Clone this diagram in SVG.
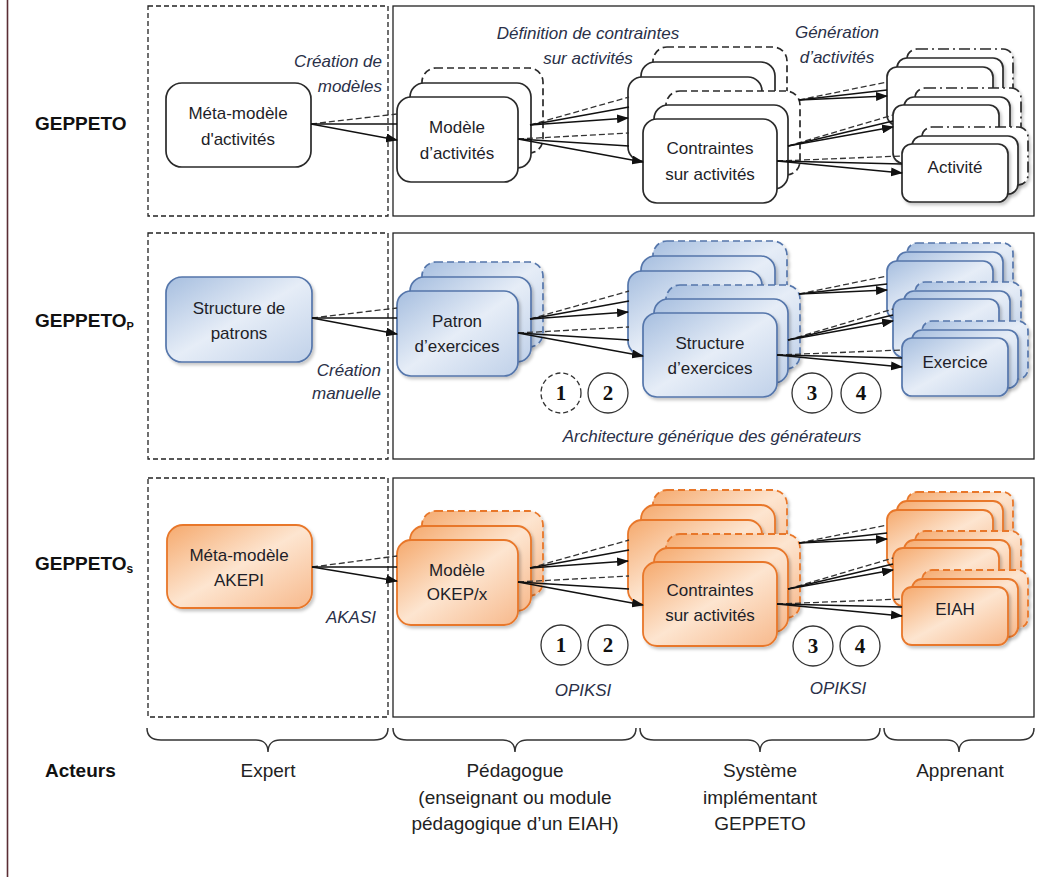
<svg xmlns="http://www.w3.org/2000/svg" width="1044" height="877" viewBox="0 0 1044 877">
<defs>
<style>
text{font-family:"Liberation Sans",Arial,sans-serif;fill:#1e1e28}
.nt{font-size:17px;text-anchor:middle}
.lb{font-size:17px;font-style:italic;fill:#2a3048}
.rl{font-size:19px;font-weight:bold;fill:#111}
.bt{font-size:19px;text-anchor:middle;fill:#222}
.num{font-family:"Liberation Serif","DejaVu Serif",serif;font-size:21px;font-weight:bold;text-anchor:middle;fill:#111}
.w{fill:#fff;stroke:#2a2a2a;stroke-width:1.7}
.wd{fill:#fff;stroke:#2a2a2a;stroke-width:1.7;stroke-dasharray:7 4}
.wdd{fill:#fff;stroke:#2a2a2a;stroke-width:1.7;stroke-dasharray:11 4 2 4}
.b{fill:url(#gb);stroke:#5576ab;stroke-width:1.7}
.bd{fill:url(#gb);stroke:#5576ab;stroke-width:1.7;stroke-dasharray:7 4}
.o{fill:url(#go);stroke:#e8772a;stroke-width:1.8}
.od{fill:url(#go);stroke:#e8772a;stroke-width:1.8;stroke-dasharray:7 4}
.sh{filter:url(#sh)}
.s{fill:none;stroke:#111;stroke-width:1.3}
.a{fill:none;stroke:#111;stroke-width:1.3;marker-end:url(#ah)}
.d{fill:none;stroke:#333;stroke-width:1.3;stroke-dasharray:6 3}
.fr{fill:none;stroke:#222;stroke-width:1.3}
.frd{fill:none;stroke:#222;stroke-width:1.3;stroke-dasharray:5 3}
.c{fill:#fff;stroke:#333;stroke-width:1.3}
.cd{fill:#fff;stroke:#333;stroke-width:1.3;stroke-dasharray:5 3}
.br{fill:none;stroke:#333;stroke-width:1.5}
</style>
<linearGradient id="gb" x1="0" y1="0" x2="1" y2="1">
<stop offset="0" stop-color="#a6bedf"/><stop offset="0.5" stop-color="#e6edf7"/><stop offset="1" stop-color="#c0d1e9"/>
</linearGradient>
<linearGradient id="go" x1="0" y1="0" x2="1" y2="1">
<stop offset="0" stop-color="#f5a96d"/><stop offset="0.5" stop-color="#fde5d0"/><stop offset="1" stop-color="#f7b98c"/>
</linearGradient>
<filter id="sh" x="-10%" y="-10%" width="130%" height="130%">
<feDropShadow dx="2" dy="2.5" stdDeviation="1.5" flood-color="#000" flood-opacity="0.22"/>
</filter>
<marker id="ah" markerWidth="12" markerHeight="9" refX="11" refY="4.5" orient="auto" markerUnits="userSpaceOnUse">
<path d="M0,0 L12,4.5 L0,9 z" fill="#111"/>
</marker>
</defs>

<rect width="1044" height="877" fill="#fff"/>
<line x1="7.5" y1="0" x2="7.5" y2="877" stroke="#5a2d34" stroke-width="1.6"/>

<g id="frames">
<rect class="frd" x="148" y="6" width="240" height="210"/>
<rect class="fr" x="393" y="6" width="641" height="210"/>
<rect class="frd" x="148" y="233" width="240" height="226"/>
<rect class="fr" x="393" y="233" width="641" height="226"/>
<rect class="frd" x="148" y="478" width="240" height="239"/>
<rect class="fr" x="393" y="478" width="641" height="239"/>
</g>

<g id="row-labels">
<text class="rl" x="35" y="130">GEPPETO</text>
<text class="rl" x="35" y="327">GEPPETO<tspan font-size="11" dy="3">P</tspan></text>
<text class="rl" x="35" y="570">GEPPETO<tspan font-size="12" dy="3">s</tspan></text>
</g>

<!-- ROW 1 -->
<g id="row1">
<g id="meta-modele-activites">
<rect class="w" x="166" y="83" width="145" height="84" rx="16"/>
<text class="nt" x="238" y="119">Méta-modèle</text>
<text class="nt" x="238" y="145">d'activités</text>
</g>
<g id="modele-activites">
<rect class="wd" x="422" y="68" width="121" height="85" rx="14"/>
<rect class="w" x="410" y="83" width="121" height="85" rx="14"/>
<rect class="w" x="397" y="97" width="121" height="85" rx="14"/>
<text class="nt" x="457" y="133">Modèle</text>
<text class="nt" x="457" y="159">d’activités</text>
</g>
<g id="contraintes-haut">
<rect class="wd" x="653" y="47" width="134" height="84" rx="14"/>
<rect class="w" x="641" y="62" width="134" height="84" rx="14"/>
<rect class="w" x="628" y="77" width="134" height="84" rx="14"/>
</g>
<g id="contraintes-activites">
<rect class="wd" x="666" y="91" width="134" height="84" rx="14"/>
<rect class="w" x="654" y="105" width="134" height="84" rx="14"/>
<rect class="w" x="643" y="119" width="134" height="84" rx="14"/>
<text class="nt" x="710" y="154">Contraintes</text>
<text class="nt" x="710" y="180">sur activités</text>
</g>
<g id="activites-a">
<rect class="wdd sh" x="907" y="49" width="106" height="58" rx="10"/>
<rect class="w sh" x="897" y="58" width="106" height="58" rx="10"/>
<rect class="w sh" x="887" y="67" width="106" height="58" rx="10"/>
</g>
<g id="activites-b">
<rect class="wdd sh" x="915" y="88" width="106" height="58" rx="10"/>
<rect class="w sh" x="904" y="97" width="106" height="58" rx="10"/>
<rect class="w sh" x="893" y="105" width="106" height="58" rx="10"/>
</g>
<g id="activite">
<rect class="wdd sh" x="922" y="127" width="106" height="58" rx="10"/>
<rect class="w sh" x="912" y="136" width="106" height="58" rx="10"/>
<rect class="w sh" x="902" y="144" width="106" height="58" rx="10"/>
<text class="nt" x="955" y="173">Activité</text>
</g>
</g>

<!-- ROW 2 -->
<g id="row2" transform="translate(0,194)">
<g id="structure-patrons">
<rect class="b sh" x="166" y="83" width="146" height="85" rx="16"/>
<text class="nt" x="239" y="120">Structure de</text>
<text class="nt" x="239" y="145">patrons</text>
</g>
<g id="patron-exercices">
<rect class="bd sh" x="422" y="68" width="121" height="85" rx="14"/>
<rect class="b sh" x="410" y="83" width="121" height="85" rx="14"/>
<rect class="b sh" x="397" y="97" width="121" height="85" rx="14"/>
<text class="nt" x="457" y="133">Patron</text>
<text class="nt" x="457" y="158">d’exercices</text>
</g>
<g id="structures-haut">
<rect class="bd sh" x="653" y="47" width="134" height="84" rx="14"/>
<rect class="b sh" x="641" y="62" width="134" height="84" rx="14"/>
<rect class="b sh" x="628" y="77" width="134" height="84" rx="14"/>
</g>
<g id="structure-exercices">
<rect class="bd sh" x="666" y="91" width="134" height="84" rx="14"/>
<rect class="b sh" x="654" y="105" width="134" height="84" rx="14"/>
<rect class="b sh" x="643" y="119" width="134" height="84" rx="14"/>
<text class="nt" x="710" y="155">Structure</text>
<text class="nt" x="710" y="180">d’exercices</text>
</g>
<g id="exercices-a">
<rect class="bd sh" x="907" y="49" width="106" height="58" rx="10"/>
<rect class="b sh" x="897" y="58" width="106" height="58" rx="10"/>
<rect class="b sh" x="887" y="67" width="106" height="58" rx="10"/>
</g>
<g id="exercices-b">
<rect class="bd sh" x="915" y="88" width="106" height="58" rx="10"/>
<rect class="b sh" x="904" y="97" width="106" height="58" rx="10"/>
<rect class="b sh" x="893" y="105" width="106" height="58" rx="10"/>
</g>
<g id="exercice">
<rect class="bd sh" x="922" y="127" width="106" height="58" rx="10"/>
<rect class="b sh" x="912" y="136" width="106" height="58" rx="10"/>
<rect class="b sh" x="902" y="144" width="106" height="58" rx="10"/>
<text class="nt" x="955" y="174">Exercice</text>
</g>
</g>

<!-- ROW 3 -->
<g id="row3" transform="translate(0,443)">
<g id="meta-modele-akepi">
<rect class="o sh" x="167" y="82" width="145" height="83" rx="16"/>
<text class="nt" x="239" y="118">Méta-modèle</text>
<text class="nt" x="239" y="143">AKEPI</text>
</g>
<g id="modele-okep">
<rect class="od sh" x="422" y="68" width="121" height="85" rx="14"/>
<rect class="o sh" x="410" y="83" width="121" height="85" rx="14"/>
<rect class="o sh" x="397" y="97" width="121" height="85" rx="14"/>
<text class="nt" x="457" y="133">Modèle</text>
<text class="nt" x="457" y="157">OKEP/x</text>
</g>
<g id="contraintes-haut-3">
<rect class="od sh" x="653" y="47" width="134" height="84" rx="14"/>
<rect class="o sh" x="641" y="62" width="134" height="84" rx="14"/>
<rect class="o sh" x="628" y="77" width="134" height="84" rx="14"/>
</g>
<g id="contraintes-activites-3">
<rect class="od sh" x="666" y="91" width="134" height="84" rx="14"/>
<rect class="o sh" x="654" y="105" width="134" height="84" rx="14"/>
<rect class="o sh" x="643" y="119" width="134" height="84" rx="14"/>
<text class="nt" x="710" y="153">Contraintes</text>
<text class="nt" x="710" y="178">sur activités</text>
</g>
<g id="eiah-a">
<rect class="od sh" x="907" y="49" width="106" height="58" rx="10"/>
<rect class="o sh" x="897" y="58" width="106" height="58" rx="10"/>
<rect class="o sh" x="887" y="67" width="106" height="58" rx="10"/>
</g>
<g id="eiah-b">
<rect class="od sh" x="915" y="88" width="106" height="58" rx="10"/>
<rect class="o sh" x="904" y="97" width="106" height="58" rx="10"/>
<rect class="o sh" x="893" y="105" width="106" height="58" rx="10"/>
</g>
<g id="eiah">
<rect class="od sh" x="922" y="127" width="106" height="58" rx="10"/>
<rect class="o sh" x="912" y="136" width="106" height="58" rx="10"/>
<rect class="o sh" x="902" y="144" width="106" height="58" rx="10"/>
<text class="nt" x="955" y="172">EIAH</text>
</g>
</g>

<g id="connectors">
<g id="conn-row1">
<path class="d" d="M311,124 L397,114"/>
<path class="s" d="M311,124 L397,124"/>
<path class="a" d="M311,124 L397,140"/>
<path class="d" d="M530,125 L629,97"/>
<path class="s" d="M530,125 L629,107"/>
<path class="a" d="M530,125 L628,118"/>
<path class="d" d="M518,139 L629,133"/>
<path class="s" d="M518,139 L629,146"/>
<path class="a" d="M518,139 L643,162"/>
<path class="d" d="M799,100 L887,82"/>
<path class="s" d="M799,100 L887,90"/>
<path class="a" d="M799,100 L887,96"/>
<path class="d" d="M788,146 L893,115"/>
<path class="s" d="M788,146 L893,121"/>
<path class="a" d="M788,146 L893,127"/>
<path class="d" d="M777,161 L902,156"/>
<path class="s" d="M777,161 L902,164"/>
<path class="a" d="M777,161 L902,173"/>
</g>
<g id="conn-row2" transform="translate(0,194)">
<path class="d" d="M312,124 L397,114"/>
<path class="s" d="M312,124 L397,124"/>
<path class="a" d="M312,124 L397,140"/>
<path class="d" d="M530,125 L629,97"/>
<path class="s" d="M530,125 L629,107"/>
<path class="a" d="M530,125 L628,118"/>
<path class="d" d="M518,139 L629,133"/>
<path class="s" d="M518,139 L629,146"/>
<path class="a" d="M518,139 L643,162"/>
<path class="d" d="M799,100 L887,82"/>
<path class="s" d="M799,100 L887,90"/>
<path class="a" d="M799,100 L887,96"/>
<path class="d" d="M788,146 L893,115"/>
<path class="s" d="M788,146 L893,121"/>
<path class="a" d="M788,146 L893,127"/>
<path class="d" d="M777,161 L902,156"/>
<path class="s" d="M777,161 L902,164"/>
<path class="a" d="M777,161 L902,173"/>
</g>
<g id="conn-row3" transform="translate(0,443)">
<path class="d" d="M312,124 L397,113"/>
<path class="s" d="M312,124 L397,124"/>
<path class="a" d="M312,124 L397,138"/>
<path class="d" d="M530,125 L629,97"/>
<path class="s" d="M530,125 L629,107"/>
<path class="a" d="M530,125 L628,118"/>
<path class="d" d="M518,139 L629,133"/>
<path class="s" d="M518,139 L629,146"/>
<path class="a" d="M518,139 L643,162"/>
<path class="d" d="M799,100 L887,82"/>
<path class="s" d="M799,100 L887,90"/>
<path class="a" d="M799,100 L887,96"/>
<path class="d" d="M788,146 L893,115"/>
<path class="s" d="M788,146 L893,121"/>
<path class="a" d="M788,146 L893,127"/>
<path class="d" d="M777,161 L902,156"/>
<path class="s" d="M777,161 L902,164"/>
<path class="a" d="M777,161 L902,173"/>
</g>
</g>

<g id="labels">
<text class="lb" x="382" y="67" text-anchor="end">Création de</text>
<text class="lb" x="382" y="92" text-anchor="end">modèles</text>
<text class="lb" x="588" y="39" text-anchor="middle">Définition de contraintes</text>
<text class="lb" x="588" y="64" text-anchor="middle">sur activités</text>
<text class="lb" x="837" y="38" text-anchor="middle">Génération</text>
<text class="lb" x="837" y="63" text-anchor="middle">d’activités</text>
<text class="lb" x="381" y="376" text-anchor="end">Création</text>
<text class="lb" x="381" y="399" text-anchor="end">manuelle</text>
<text class="lb" x="712" y="442" text-anchor="middle">Architecture générique des générateurs</text>
<text class="lb" x="376" y="623" text-anchor="end">AKASI</text>
<text class="lb" x="583" y="696" text-anchor="middle">OPIKSI</text>
<text class="lb" x="838" y="694" text-anchor="middle">OPIKSI</text>
</g>

<g id="steps-row2">
<g id="c2-1"><circle class="cd" cx="561" cy="393" r="20"/><text class="num" x="561" y="400">1</text></g>
<g id="c2-2"><circle class="c" cx="608" cy="393" r="20"/><text class="num" x="608" y="400">2</text></g>
<g id="c2-3"><circle class="c" cx="812" cy="393" r="20"/><text class="num" x="812" y="400">3</text></g>
<g id="c2-4"><circle class="c" cx="861" cy="393" r="20"/><text class="num" x="861" y="400">4</text></g>
</g>
<g id="steps-row3">
<g id="c3-1"><circle class="c" cx="561" cy="645" r="20"/><text class="num" x="561" y="652">1</text></g>
<g id="c3-2"><circle class="c" cx="608" cy="645" r="20"/><text class="num" x="608" y="652">2</text></g>
<g id="c3-3"><circle class="c" cx="813" cy="646" r="20"/><text class="num" x="813" y="653">3</text></g>
<g id="c3-4"><circle class="c" cx="860" cy="646" r="20"/><text class="num" x="860" y="653">4</text></g>
</g>

<g id="acteurs">
<path class="br" d="M147,728 C147,736 151,740 161,740 L256,740 C263,740 268,744 268,752 C268,744 273,740 280,740 L374,740 C384,740 388,736 388,728"/>
<path class="br" d="M393,728 C393,736 397,740 407,740 L503,740 C510,740 515,744 515,752 C515,744 520,740 527,740 L622,740 C632,740 636,736 636,728"/>
<path class="br" d="M640,728 C640,736 644,740 654,740 L748,740 C755,740 760,744 760,752 C760,744 765,740 772,740 L866,740 C876,740 880,736 880,728"/>
<path class="br" d="M884,728 C884,736 888,740 898,740 L947,740 C954,740 959,744 959,752 C959,744 964,740 971,740 L1020,740 C1030,740 1034,736 1034,728"/>
<text class="rl" x="45" y="777">Acteurs</text>
<text class="bt" x="268" y="777">Expert</text>
<text class="bt" x="515" y="777">Pédagogue</text>
<text class="bt" x="515" y="804">(enseignant ou module</text>
<text class="bt" x="515" y="830">pédagogique d’un EIAH)</text>
<text class="bt" x="760" y="777">Système</text>
<text class="bt" x="760" y="804">implémentant</text>
<text class="bt" x="760" y="830">GEPPETO</text>
<text class="bt" x="960" y="777">Apprenant</text>
</g>
</svg>
